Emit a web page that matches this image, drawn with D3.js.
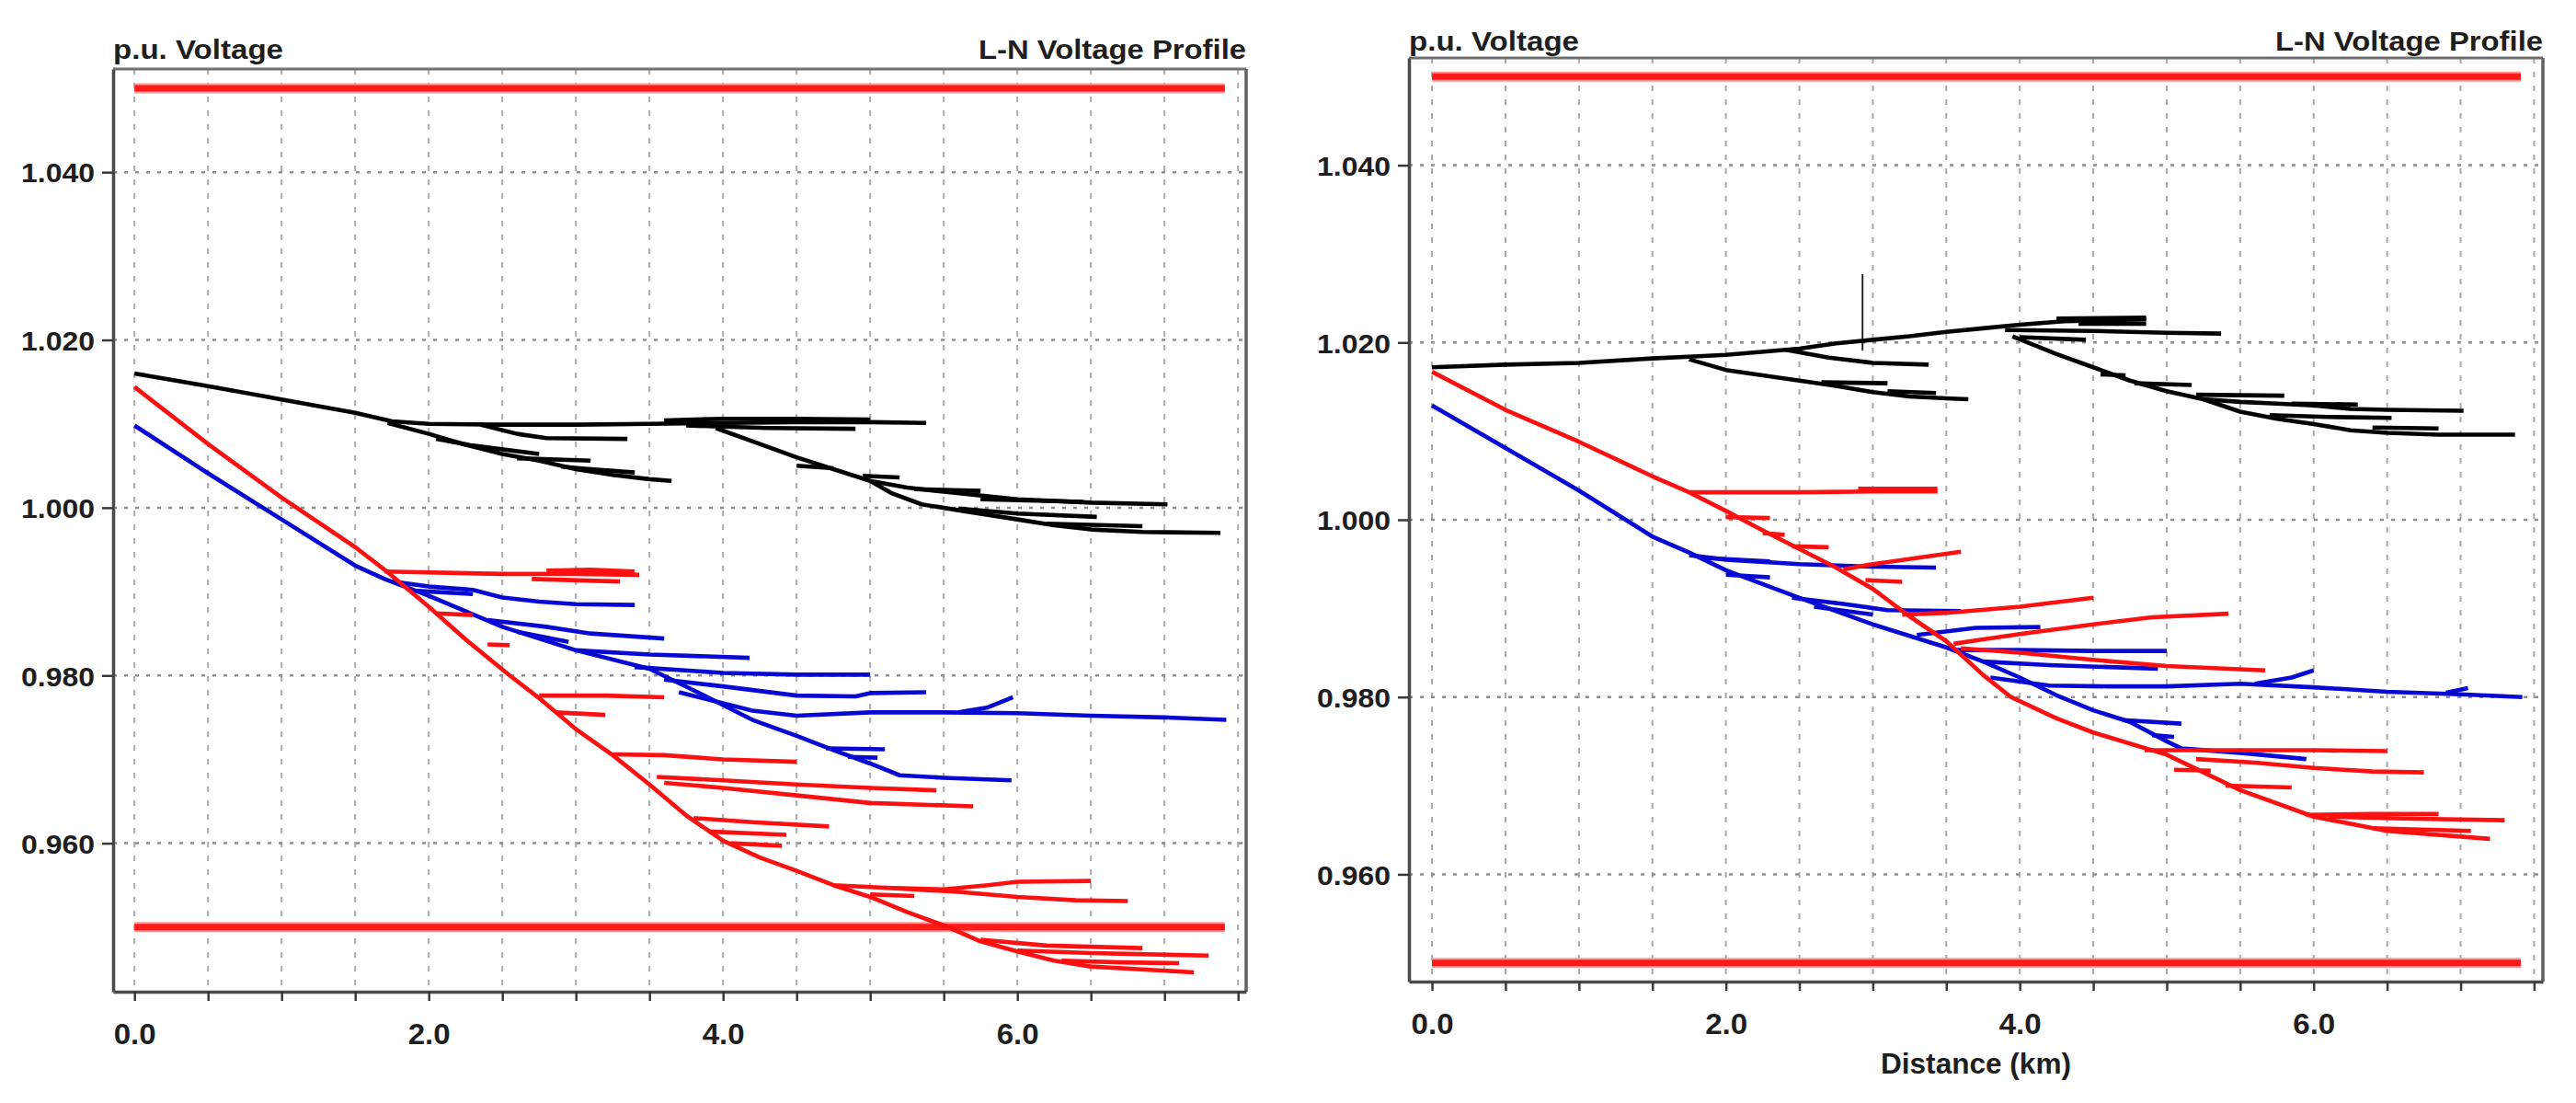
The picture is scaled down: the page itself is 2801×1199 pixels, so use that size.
<!DOCTYPE html>
<html><head><meta charset="utf-8">
<script src="https://cdn.jsdelivr.net/npm/d3@7/dist/d3.min.js"></script>
<style>
html,body{margin:0;padding:0;background:#fff;}
svg{display:block;}
text{font-family:"Liberation Sans",Arial,Helvetica,sans-serif;font-weight:bold;fill:#1e1e1e;}
</style></head><body>
<svg id="chart" width="2801" height="1199"></svg>
<script>
// ---------------- DATA ----------------
const xGridValues = [0,0.5,1,1.5,2,2.5,3,3.5,4,4.5,5,5.5,6,6.5,7,7.5];
const xTickValues = [0,2,4,6];
const xTickLabels = ["0.0","2.0","4.0","6.0"];
const yTickValues = [0.96,0.98,1.00,1.02,1.04];
const yTickLabels = ["0.960","0.980","1.000","1.020","1.040"];
const limitValues = [0.95,1.05];
const limitExtent = [0,7.41];
const yAxisTitle = "p.u. Voltage";
const plotTitle = "L-N Voltage Profile";
const xAxisTitle = "Distance (km)";

// Left chart: each series is a list of feeder branches, each branch [km, p.u.]
const leftBlack = [
 [[0,1.0160],[0.5,1.0145],[1.0,1.0129],[1.5,1.0113],[1.75,1.0103],[2.0,1.0100],[2.5,1.0099],[3.0,1.0099],[3.5,1.0100],[4.0,1.0101],[4.5,1.0102],[5.0,1.0102],[5.38,1.0101]],
 [[1.72,1.0101],[2.0,1.0088],[2.25,1.0075],[2.5,1.0064],[2.75,1.0056],[3.0,1.0046],[3.25,1.0039],[3.5,1.0034],[3.65,1.0032]],
 [[2.35,1.0099],[2.6,1.0088],[2.8,1.0083],[3.35,1.0082]],
 [[2.05,1.0082],[2.3,1.0074],[2.75,1.0064]],
 [[2.6,1.0059],[3.1,1.0056]],
 [[2.9,1.0049],[3.1,1.0046],[3.4,1.0042]],
 [[3.6,1.0104],[4.0,1.0106],[4.5,1.0106],[5.0,1.0105]],
 [[3.75,1.0098],[4.3,1.0095],[4.9,1.0094]],
 [[3.95,1.0095],[4.25,1.0076],[4.5,1.0060],[4.75,1.0046],[5.0,1.0032],[5.25,1.0024],[5.5,1.0019],[6.0,1.0010],[6.5,1.0006],[7.02,1.0004]],
 [[5.0,1.0032],[5.15,1.0017],[5.35,1.0004],[5.6,0.9997],[6.0,0.9986],[6.25,0.9979],[6.5,0.9974],[6.85,0.9971],[7.38,0.9970]],
 [[5.6,0.9999],[6.0,0.9993],[6.54,0.9989]],
 [[4.5,1.0050],[4.75,1.0047]],
 [[4.95,1.0038],[5.2,1.0036]],
 [[5.3,1.0022],[5.75,1.0020]],
 [[5.75,1.0010],[6.45,1.0007]],
 [[6.2,0.9981],[6.85,0.9978]]
];
const leftRed = [
 [[0,1.0144],[0.5,1.0076],[1.0,1.0012],[1.5,0.9953],[1.7,0.9926],[2.0,0.9882],[2.25,0.9843],[2.55,0.9800],[2.75,0.9773],[3.0,0.9736],[3.25,0.9705],[3.5,0.9670],[3.75,0.9633],[4.0,0.9603],[4.25,0.9583],[4.5,0.9567],[4.75,0.9550],[5.0,0.9536],[5.25,0.9518],[5.5,0.9502],[5.75,0.9483],[6.0,0.9471],[6.25,0.9460],[6.5,0.9453],[7.2,0.9446]],
 [[1.7,0.9924],[2.5,0.9921],[3.0,0.9921],[3.43,0.9920]],
 [[2.8,0.9925],[3.1,0.9926],[3.4,0.9924]],
 [[2.7,0.9915],[3.3,0.9912]],
 [[2.05,0.9874],[2.3,0.9872]],
 [[2.4,0.9837],[2.55,0.9836]],
 [[2.75,0.9776],[3.2,0.9776],[3.6,0.9774]],
 [[2.86,0.9756],[3.2,0.9753]],
 [[3.25,0.9706],[3.6,0.9705],[4.0,0.9700],[4.5,0.9697]],
 [[3.55,0.9679],[4.0,0.9675],[4.5,0.9670],[5.0,0.9666],[5.45,0.9663]],
 [[3.6,0.9672],[4.0,0.9666],[4.5,0.9657],[5.0,0.9648],[5.7,0.9644]],
 [[3.8,0.9630],[4.2,0.9625],[4.72,0.9620]],
 [[3.9,0.9614],[4.43,0.9610]],
 [[4.05,0.9600],[4.4,0.9597]],
 [[4.75,0.9550],[5.1,0.9547],[5.5,0.9545],[5.8,0.9550],[6.0,0.9554],[6.5,0.9555]],
 [[5.1,0.9547],[5.6,0.9542],[6.0,0.9536],[6.4,0.9532],[6.75,0.9531]],
 [[5.0,0.9539],[5.3,0.9537]],
 [[5.75,0.9485],[6.2,0.9478],[6.85,0.9475]],
 [[6.0,0.9472],[6.5,0.9469],[7.3,0.9466]],
 [[6.3,0.9460],[6.7,0.9458],[7.1,0.9457]]
];
const leftBlue = [
 [[0,1.0098],[0.5,1.0041],[1.0,0.9986],[1.5,0.9931],[1.7,0.9915],[2.0,0.9895],[2.5,0.9858],[3.0,0.9830],[3.5,0.9808],[3.85,0.9778],[4.2,0.9747],[4.5,0.9728],[4.75,0.9711],[5.0,0.9695],[5.2,0.9681],[5.5,0.9678],[5.96,0.9675]],
 [[1.75,0.9912],[2.0,0.9906],[2.3,0.9902],[2.5,0.9893],[2.75,0.9888],[3.0,0.9885],[3.4,0.9884]],
 [[1.9,0.9901],[2.3,0.9897]],
 [[2.4,0.9866],[2.8,0.9858],[3.1,0.9850],[3.6,0.9844]],
 [[2.6,0.9852],[2.95,0.9840]],
 [[3.0,0.9830],[3.5,0.9825],[4.18,0.9821]],
 [[3.4,0.9810],[4.0,0.9803],[4.5,0.9801],[5.0,0.9801]],
 [[3.6,0.9795],[4.0,0.9787],[4.5,0.9776],[4.9,0.9775],[5.0,0.9779],[5.38,0.9780]],
 [[3.7,0.9780],[4.2,0.9758],[4.5,0.9752],[5.0,0.9756],[5.5,0.9756],[6.0,0.9755],[6.5,0.9752],[7.0,0.9750],[7.42,0.9747]],
 [[5.6,0.9756],[5.8,0.9762],[5.97,0.9774]],
 [[4.7,0.9713],[5.1,0.9712]],
 [[4.85,0.9703],[5.05,0.9702]]
];

// Right chart
const rightBlack = [
 [[0,1.0172],[0.5,1.0175],[1.0,1.0177],[1.5,1.0182],[1.75,1.0184],[2.0,1.0186],[2.5,1.0193],[2.75,1.0199],[3.0,1.0203],[3.25,1.0207],[3.5,1.0212],[3.75,1.0216],[4.0,1.0220],[4.3,1.0224],[4.86,1.0226]],
 [[3.9,1.0214],[4.5,1.0213],[5.0,1.0211],[5.37,1.0210]],
 [[4.0,1.0206],[4.45,1.0203]],
 [[4.4,1.0221],[4.86,1.0221]],
 [[4.25,1.0227],[4.86,1.0228]],
 [[3.95,1.0207],[4.25,1.0187],[4.5,1.0172],[4.75,1.0157],[5.0,1.0145],[5.25,1.0136],[5.5,1.0133],[5.75,1.0131],[6.0,1.0129],[6.25,1.0125],[6.5,1.0124],[7.02,1.0123]],
 [[5.25,1.0136],[5.5,1.0122],[5.75,1.0114],[6.0,1.0108],[6.25,1.0101],[6.5,1.0098],[6.85,1.0096],[7.37,1.0096]],
 [[5.7,1.0118],[6.1,1.0116],[6.53,1.0115]],
 [[4.55,1.0164],[4.72,1.0163]],
 [[4.78,1.0154],[5.17,1.0152]],
 [[5.2,1.0141],[5.8,1.0140]],
 [[5.85,1.0131],[6.3,1.0130]],
 [[6.4,1.0104],[6.85,1.0103]],
 [[2.4,1.0192],[2.7,1.0183],[3.0,1.0177],[3.38,1.0175]],
 [[1.75,1.0181],[2.0,1.0169],[2.25,1.0163],[2.5,1.0157],[2.75,1.0151],[3.0,1.0144],[3.25,1.0139],[3.5,1.0137],[3.65,1.0136]],
 [[2.65,1.0155],[3.1,1.0154]],
 [[3.1,1.0145],[3.43,1.0143]]
];
const rightBlackSpike = [[2.93,1.0191],[2.93,1.0277]];
const rightRed = [
 [[0,1.0167],[0.5,1.0124],[1.0,1.0088],[1.5,1.0049],[1.75,1.0031],[2.0,1.0010],[2.25,0.9988],[2.5,0.9967],[2.75,0.9946],[3.0,0.9922],[3.25,0.9891],[3.5,0.9863],[3.75,0.9825],[3.94,0.9800],[4.25,0.9776],[4.5,0.9760],[5.0,0.9735],[5.5,0.9695],[6.0,0.9665],[6.5,0.9649],[7.2,0.9640]],
 [[1.75,1.0031],[2.5,1.0031],[3.0,1.0032],[3.44,1.0032]],
 [[2.9,1.0035],[3.44,1.0035]],
 [[2.0,1.0003],[2.3,1.0002]],
 [[2.25,0.9985],[2.4,0.9983]],
 [[2.45,0.9970],[2.7,0.9969]],
 [[2.8,0.9944],[3.0,0.9950],[3.3,0.9957],[3.6,0.9964]],
 [[2.95,0.9932],[3.2,0.9930]],
 [[3.2,0.9893],[3.5,0.9895],[4.0,0.9902],[4.5,0.9912]],
 [[3.55,0.9860],[3.75,0.9865],[4.0,0.9871],[4.5,0.9882],[4.9,0.9890],[5.42,0.9894]],
 [[3.6,0.9855],[4.0,0.9850],[4.5,0.9842],[5.0,0.9835],[5.67,0.9830]],
 [[4.85,0.9740],[5.5,0.9740],[6.0,0.9740],[6.5,0.9739]],
 [[5.2,0.9730],[5.6,0.9726],[6.0,0.9720],[6.4,0.9716],[6.75,0.9715]],
 [[5.05,0.9718],[5.3,0.9717]],
 [[5.4,0.9700],[5.85,0.9698]],
 [[5.95,0.9667],[6.4,0.9668],[6.85,0.9668]],
 [[6.1,0.9665],[6.6,0.9663],[7.3,0.9661]],
 [[6.4,0.9652],[7.07,0.9649]]
];
const rightBlue = [
 [[0,1.0129],[0.5,1.0081],[1.0,1.0033],[1.5,0.9981],[1.75,0.9963],[2.0,0.9943],[2.5,0.9912],[3.0,0.9882],[3.5,0.9856],[3.75,0.9840],[4.0,0.9822],[4.25,0.9802],[4.5,0.9785],[4.75,0.9772],[5.0,0.9750],[5.1,0.9742],[5.5,0.9737],[5.95,0.9730]],
 [[1.75,0.9960],[2.0,0.9955],[2.5,0.9950],[3.0,0.9947],[3.43,0.9946]],
 [[1.85,0.9957],[2.3,0.9953]],
 [[2.0,0.9938],[2.3,0.9935]],
 [[2.45,0.9912],[2.8,0.9905],[3.1,0.9898],[3.6,0.9897]],
 [[2.6,0.9902],[3.0,0.9893]],
 [[3.3,0.9870],[3.7,0.9878],[4.14,0.9879]],
 [[3.55,0.9853],[4.0,0.9853],[4.5,0.9852],[5.0,0.9852]],
 [[3.75,0.9840],[4.2,0.9836],[4.94,0.9832]],
 [[3.8,0.9822],[4.2,0.9813],[4.6,0.9812],[5.0,0.9812],[5.5,0.9815],[6.0,0.9811],[6.5,0.9806],[7.0,0.9803],[7.42,0.9800]],
 [[5.6,0.9815],[5.85,0.9822],[6.0,0.9830]],
 [[6.9,0.9805],[7.05,0.9810]],
 [[4.7,0.9774],[5.1,0.9770]],
 [[4.9,0.9757],[5.05,0.9755]]
];

// ---------------- LAYOUT ----------------
const panels = [
 {box:{x0:123,x1:1355,y0:75,y1:1078}, xDomain:[-0.145,7.555], yDomain:[0.9423,1.0523], titleBase:64,
  series:[{d:leftBlue,c:"#0808d4"},{d:leftRed,c:"#ff1010"},{d:leftBlack,c:"#000"}], spikes:[], showXTitle:false},
 {box:{x0:1532,x1:2765,y0:63,y1:1067}, xDomain:[-0.157,7.56], yDomain:[0.9479,1.0521], titleBase:55,
  series:[{d:rightBlue,c:"#0808d4"},{d:rightRed,c:"#ff1010"},{d:rightBlack,c:"#000"}], spikes:[rightBlackSpike], showXTitle:true}
];

const svg = d3.select("#chart");
svg.append("rect").attr("width",2801).attr("height",1199).attr("fill","#fff");

panels.forEach(p => {
  const b = p.box;
  const x = d3.scaleLinear().domain(p.xDomain).range([b.x0,b.x1]);
  const y = d3.scaleLinear().domain(p.yDomain).range([b.y1,b.y0]);
  const g = svg.append("g");

  // grid
  g.append("g").selectAll("line").data(xGridValues).enter().append("line")
   .attr("x1",d=>x(d)).attr("x2",d=>x(d)).attr("y1",b.y0).attr("y2",b.y1)
   .attr("stroke","#a8a8a8").attr("stroke-width",2).attr("stroke-dasharray","6,9");
  g.append("g").selectAll("line").data(yTickValues).enter().append("line")
   .attr("x1",b.x0).attr("x2",b.x1).attr("y1",d=>y(d)).attr("y2",d=>y(d))
   .attr("stroke","#8e8e8e").attr("stroke-width",2.5).attr("stroke-dasharray","4,8");

  // limits
  const lim = g.append("g");
  lim.selectAll("line.halo").data(limitValues).enter().append("line")
   .attr("x1",x(limitExtent[0])).attr("x2",x(limitExtent[1])).attr("y1",d=>y(d)).attr("y2",d=>y(d))
   .attr("stroke","#ff9a9a").attr("stroke-width",11);
  lim.selectAll("line.core").data(limitValues).enter().append("line")
   .attr("x1",x(limitExtent[0])).attr("x2",x(limitExtent[1])).attr("y1",d=>y(d)).attr("y2",d=>y(d))
   .attr("stroke","#ff1a1a").attr("stroke-width",7);

  // data
  const line = d3.line().x(d=>x(d[0])).y(d=>y(d[1]));
  p.series.forEach(s => {
    g.append("g").selectAll("path").data(s.d).enter().append("path")
     .attr("d",line).attr("fill","none").attr("stroke",s.c)
     .attr("stroke-width",4.6).attr("stroke-linejoin","round").attr("stroke-linecap","butt");
  });
  p.spikes.forEach(sp => {
    g.append("path").attr("d",line(sp)).attr("fill","none").attr("stroke","#111").attr("stroke-width",1.8);
  });

  // frame top & right
  g.append("line").attr("x1",b.x0).attr("x2",b.x1).attr("y1",b.y0).attr("y2",b.y0)
   .attr("stroke","#707070").attr("stroke-width",3);
  g.append("line").attr("x1",b.x1).attr("x2",b.x1).attr("y1",b.y0).attr("y2",b.y1)
   .attr("stroke","#606060").attr("stroke-width",3.5);

  // axes
  const xAxis = d3.axisBottom(x).tickValues(xGridValues).tickSize(10).tickSizeOuter(0).tickPadding(24)
   .tickFormat(d => { const i = xTickValues.indexOf(d); return i >= 0 ? xTickLabels[i] : ""; });
  const gx = g.append("g").attr("transform",`translate(0,${b.y1})`).call(xAxis);
  gx.select(".domain").attr("stroke","#4a4a4a").attr("stroke-width",3.5);
  gx.selectAll(".tick line").attr("stroke","#3a3a3a").attr("stroke-width",2.5);
  gx.selectAll(".tick text").attr("font-size",32).attr("fill","#1e1e1e")
   .attr("font-family","'Liberation Sans',Arial,sans-serif").attr("font-weight","bold")
   .each(function(d){ if (xTickValues.indexOf(d) >= 0) d3.select(this).attr("textLength",46).attr("lengthAdjust","spacingAndGlyphs"); });

  const yAxis = d3.axisLeft(y).tickValues(yTickValues).tickSize(12).tickSizeOuter(0).tickPadding(8)
   .tickFormat(d => yTickLabels[yTickValues.indexOf(d)]);
  const gy = g.append("g").attr("transform",`translate(${b.x0},0)`).call(yAxis);
  gy.select(".domain").attr("stroke","#4a4a4a").attr("stroke-width",3.5);
  gy.selectAll(".tick line").attr("stroke","#3a3a3a").attr("stroke-width",2.5);
  gy.selectAll(".tick text").attr("font-size",30).attr("fill","#1e1e1e")
   .attr("font-family","'Liberation Sans',Arial,sans-serif").attr("font-weight","bold")
   .attr("dy","0.36em").attr("textLength",80).attr("lengthAdjust","spacingAndGlyphs");

  // titles
  g.append("text").attr("x",b.x0).attr("y",p.titleBase).attr("font-size",30)
   .attr("textLength",185).attr("lengthAdjust","spacingAndGlyphs").text(yAxisTitle);
  g.append("text").attr("x",b.x1).attr("y",p.titleBase).attr("font-size",30).attr("text-anchor","end")
   .attr("textLength",291).attr("lengthAdjust","spacingAndGlyphs").text(plotTitle);
  if (p.showXTitle) {
    g.append("text").attr("x",(b.x0+b.x1)/2).attr("y",1167).attr("font-size",31).attr("text-anchor","middle")
     .attr("textLength",207).attr("lengthAdjust","spacingAndGlyphs").text(xAxisTitle);
  }
});
</script>
</body></html>
